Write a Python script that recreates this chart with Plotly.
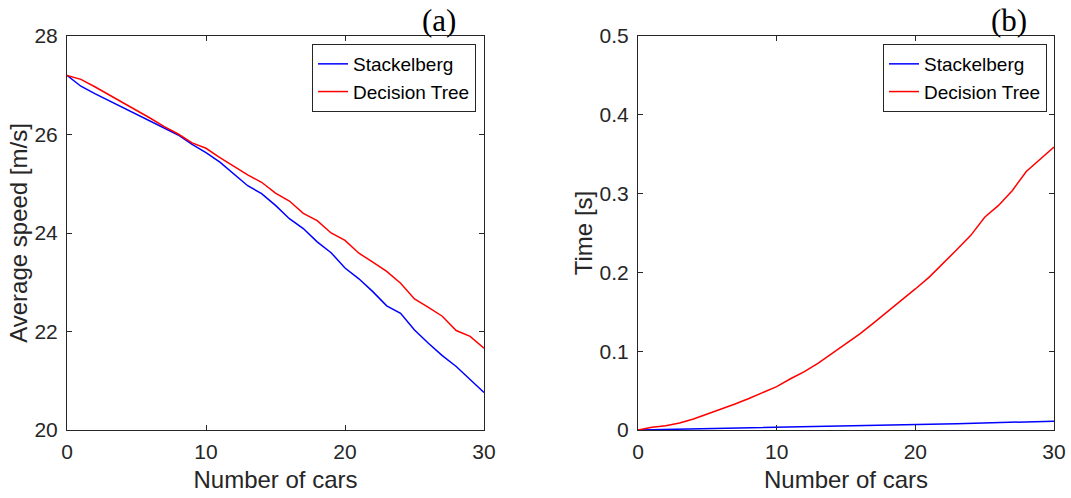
import plotly.graph_objects as go

num_cars = list(range(0, 31))

stackelberg_speed = [27.20, 26.98, 26.83, 26.69, 26.56, 26.42, 26.28, 26.13, 25.99, 25.80,
                     25.63, 25.44, 25.19, 24.96, 24.80, 24.56, 24.29, 24.09, 23.82, 23.60,
                     23.29, 23.07, 22.81, 22.52, 22.37, 22.03, 21.76, 21.51, 21.29, 21.02, 20.76]
decision_tree_speed = [27.20, 27.12, 26.97, 26.81, 26.66, 26.49, 26.33, 26.16, 26.01, 25.83,
                       25.72, 25.53, 25.36, 25.18, 25.03, 24.81, 24.65, 24.40, 24.25, 24.00,
                       23.85, 23.59, 23.41, 23.22, 22.98, 22.66, 22.49, 22.31, 22.02, 21.90, 21.66]

stackelberg_time = [0.0, 0.0003, 0.0006, 0.0010, 0.0013, 0.0016, 0.0020, 0.0023, 0.0026, 0.0030,
                    0.0033, 0.0036, 0.0040, 0.0043, 0.0046, 0.0050, 0.0053, 0.0057, 0.0060, 0.0064,
                    0.0068, 0.0072, 0.0076, 0.0080, 0.0084, 0.0088, 0.0093, 0.0097, 0.0102, 0.0107, 0.0112]
decision_tree_time = [0.0, 0.0034, 0.0055, 0.009, 0.014, 0.020, 0.026, 0.033, 0.040, 0.048,
                      0.055, 0.065, 0.074, 0.085, 0.097, 0.109, 0.122, 0.136, 0.150, 0.165,
                      0.179, 0.194, 0.211, 0.229, 0.247, 0.270, 0.285, 0.304, 0.328, 0.343, 0.359]

series_names = ["Stackelberg", "Decision Tree"]
speed_ticks = [20, 22, 24, 26, 28]
time_ticks = [0, 0.1, 0.2, 0.3, 0.4, 0.5]
time_tick_labels = ["0", "0.1", "0.2", "0.3", "0.4", "0.5"]
x_ticks = [0, 10, 20, 30]

BLUE = "#0000FF"
RED = "#FF0000"
AX = "#262626"
SANS = "Liberation Sans, Arial, sans-serif"
SERIF = "Liberation Serif, Times New Roman, serif"
W, H = 1071, 498

fig = go.Figure()
fig.add_trace(go.Scatter(x=num_cars, y=stackelberg_speed, mode="lines", name=series_names[0],
                         line=dict(color=BLUE, width=1.5), xaxis="x", yaxis="y", legend="legend"))
fig.add_trace(go.Scatter(x=num_cars, y=decision_tree_speed, mode="lines", name=series_names[1],
                         line=dict(color=RED, width=1.5), xaxis="x", yaxis="y", legend="legend"))
fig.add_trace(go.Scatter(x=num_cars, y=stackelberg_time, mode="lines", name=series_names[0],
                         line=dict(color=BLUE, width=1.5), xaxis="x2", yaxis="y2", legend="legend2"))
fig.add_trace(go.Scatter(x=num_cars, y=decision_tree_time, mode="lines", name=series_names[1],
                         line=dict(color=RED, width=1.5), xaxis="x2", yaxis="y2", legend="legend2"))


def px_x(p):
    return p / W


def px_y(p):
    return (H - p) / H


axis_common = dict(showline=True, linecolor=AX, linewidth=1, mirror="ticks", ticks="inside",
                   ticklen=5, tickcolor=AX, tickwidth=1, showgrid=False, zeroline=False,
                   automargin=False,
                   tickfont=dict(family=SANS, size=21, color=AX),
                   title_font=dict(family=SANS, size=24, color=AX))

xdom1 = [px_x(67), px_x(484)]
xdom2 = [px_x(638), px_x(1054)]
ydom = [px_y(430), px_y(36)]

legend_common = dict(font=dict(family=SANS, size=19, color="#000000"), bgcolor="white",
                     bordercolor=AX, borderwidth=1, xanchor="right", yanchor="top",
                     itemwidth=30, tracegroupgap=0)

fig.update_layout(
    width=W, height=H, autosize=False,
    margin=dict(l=0, r=0, t=0, b=0, pad=0),
    paper_bgcolor="white", plot_bgcolor="white",
    xaxis=dict(domain=xdom1, range=[0, 30], tickvals=x_ticks, anchor="y",
               title=dict(text="Number of cars", standoff=8), ticklabelstandoff=3, **axis_common),
    yaxis=dict(domain=ydom, range=[20, 28], tickvals=speed_ticks, anchor="x",
               title=dict(text="Average speed [m/s]", standoff=0), ticklabelstandoff=4, **axis_common),
    xaxis2=dict(domain=xdom2, range=[0, 30], tickvals=x_ticks, anchor="y2",
                title=dict(text="Number of cars", standoff=8), ticklabelstandoff=3, **axis_common),
    yaxis2=dict(domain=ydom, range=[0, 0.5], tickvals=time_ticks, ticktext=time_tick_labels,
                anchor="x2", title=dict(text="Time [s]", standoff=0), ticklabelstandoff=4,
                **axis_common),
    legend=dict(x=px_x(476), y=px_y(44), **legend_common),
    legend2=dict(x=px_x(1047), y=px_y(44), **legend_common),
    annotations=[
        dict(text="(a)", x=px_x(439), y=px_y(21), xref="paper", yref="paper", showarrow=False,
             xanchor="center", yanchor="middle", font=dict(family=SERIF, size=31, color="#000000")),
        dict(text="(b)", x=px_x(1009), y=px_y(21), xref="paper", yref="paper", showarrow=False,
             xanchor="center", yanchor="middle", font=dict(family=SERIF, size=31, color="#000000")),
    ],
)

fig.write_html("out.html")
